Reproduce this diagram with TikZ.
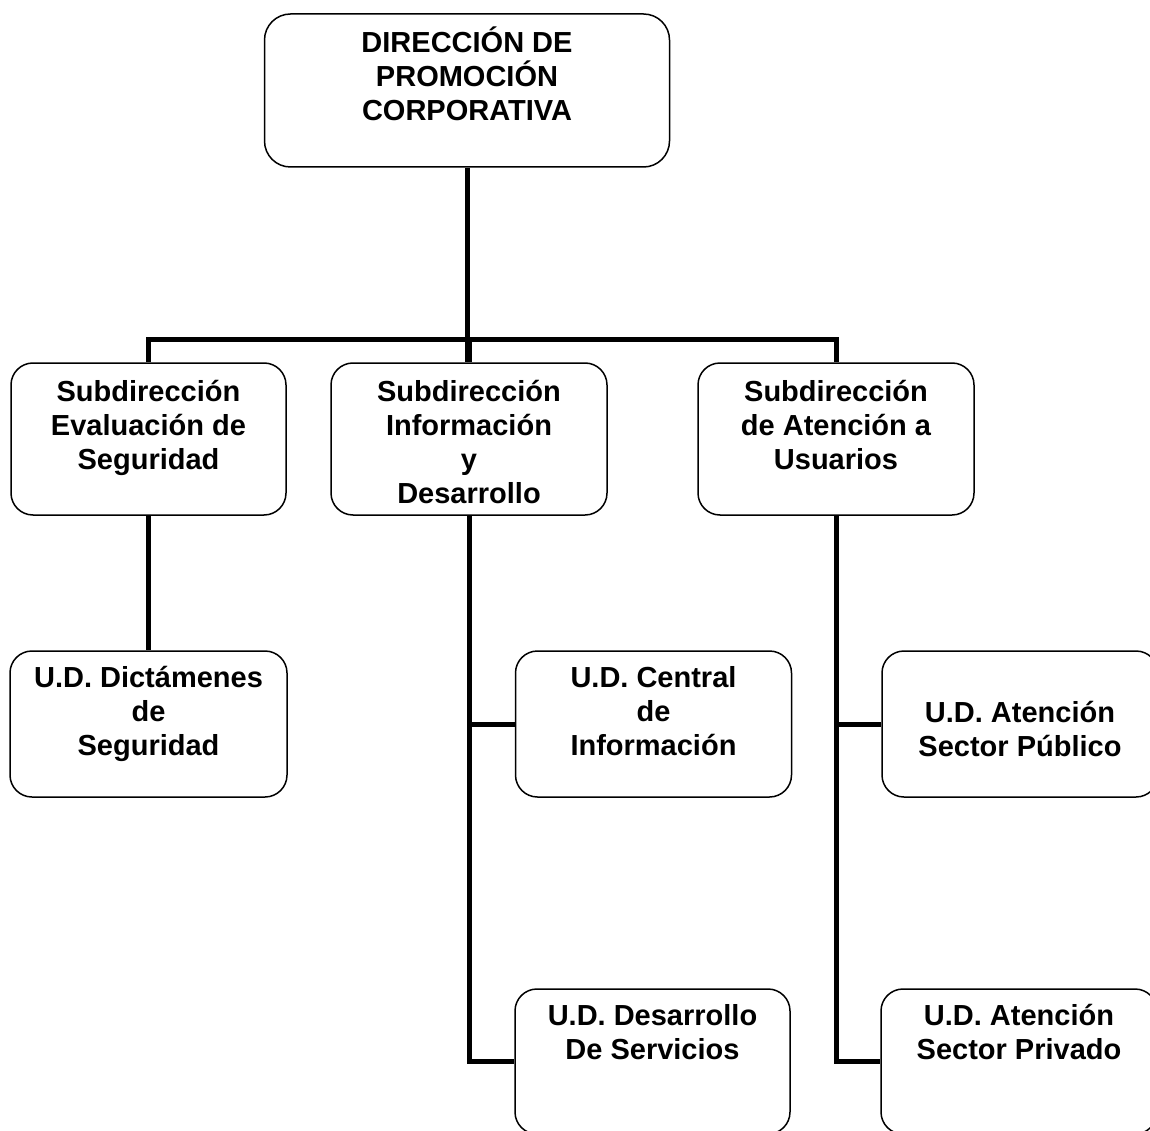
\documentclass[tikz,border=0pt]{standalone}
\usepackage{fontspec}
\setmainfont{Liberation Sans}
\newcommand{\fl}{\rule{0pt}{30pt}}
\begin{document}
\begin{tikzpicture}[x=1pt,y=-1pt,
  box/.style={draw, line width=1.5pt, rounded corners=22pt, inner sep=0pt},
  lbl/.style={anchor=north, align=center, inner sep=0pt, font=\bfseries\fontsize{29}{34}\selectfont},
  conn/.style={line width=5pt}]
\useasboundingbox (0,0) rectangle (1150,1131);
\fill[white] (0,0) rectangle (1150,1131);
\clip (0,0) rectangle (1150,1131);
% boxes
\node[box, rounded corners=26pt, minimum width=405pt, minimum height=153pt] (dir) at (467,90.5) {};
\node[box, minimum width=275pt, minimum height=152pt] (sl) at (148.5,439) {};
\node[box, minimum width=276pt, minimum height=152pt] (mid) at (469,439) {};
\node[box, minimum width=276pt, minimum height=152pt] (sr) at (836,439) {};
\node[box, minimum width=277pt, minimum height=146pt] (dl) at (148.5,724) {};
\node[box, minimum width=276pt, minimum height=146pt] (cen) at (653.5,724) {};
\node[box, minimum width=276pt, minimum height=146pt] (pub) at (1020,724) {};
\node[box, minimum width=275pt, minimum height=145pt] (des) at (652.5,1061.5) {};
\node[box, minimum width=276pt, minimum height=145pt] (priv) at (1019,1061.5) {};
% texts
\node[lbl] (tdir) at (467,22) {\fl DIRECCIÓN DE\\PROMOCIÓN\\CORPORATIVA};
\node[lbl] (tsl) at (148.5,371) {\fl Subdirección\\Evaluación de\\Seguridad};
\node[lbl] (tmid) at (469,371) {\fl Subdirección\\Información\\y\\Desarrollo};
\node[lbl] (tsr) at (836,371) {\fl Subdirección\\de Atención a\\Usuarios};
\node[lbl] (tdl) at (148.5,657) {\fl U.D. Dictámenes\\de\\Seguridad};
\node[lbl] (tcen) at (653.5,657) {\fl U.D. Central\\de\\Información};
\node[lbl] (tpub) at (1020,692) {\fl U.D. Atención\\Sector Público};
\node[lbl] (tdes) at (652.5,995) {\fl U.D. Desarrollo\\De Servicios};
\node[lbl] (tpriv) at (1019,995) {\fl U.D. Atención\\Sector Privado};
% connectors
\draw[conn] (dir.south) -- (dir.south |- sl.north);
\draw[conn] (sl.north) -- ++(0,-23) -| (sr.north);
\draw[conn] (mid.north) -- ++(0,-25);
\draw[conn] (sl.south) -- (dl.north);
\draw[conn] (mid.south) |- (des.west);
\draw[conn] (mid.south |- cen.west) -- (cen.west);
\draw[conn] (sr.south) |- (priv.west);
\draw[conn] (sr.south |- pub.west) -- (pub.west);
\end{tikzpicture}
\end{document}
